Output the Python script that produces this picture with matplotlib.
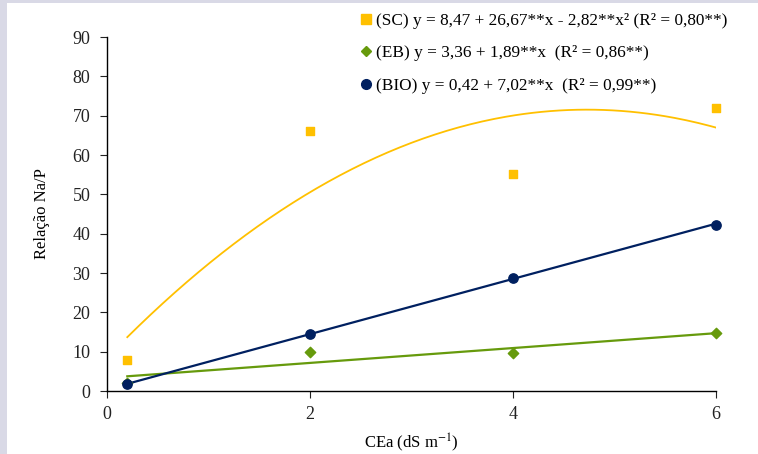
import matplotlib.pyplot as plt
import matplotlib.patches as patches
from matplotlib.lines import Line2D
import numpy as np

plt.rcParams['font.family'] = ['Liberation Serif', 'DejaVu Serif']
plt.rcParams['mathtext.fontset'] = 'stix'

# CEa levels and measured Na/P ratios
cea = [0.2, 2, 4, 6]
sc_vals = [8.0, 66.1, 55.2, 72.0]
eb_vals = [2.0, 9.9, 9.7, 14.7]
bio_vals = [1.8, 14.5, 28.7, 42.2]

# regression coefficients (from the legend)
sc_coef = [8.47, 26.67, -2.82]
eb_coef = [3.36, 1.89]
bio_coef = [0.42, 7.02]

sc_label = '(SC) y = 8,47 + 26,67**x - 2,82**x² (R² = 0,80**)'
eb_label = '(EB) y = 3,36 + 1,89**x  (R² = 0,86**)'
bio_label = '(BIO) y = 0,42 + 7,02**x  (R² = 0,99**)'

c_sc = '#FFC000'
c_eb = '#669A0C'
c_bio = '#002060'

fig = plt.figure(figsize=(7.58, 4.54), dpi=100)
fig.patch.set_facecolor('#D9D9E6')
fig.patches.append(patches.Rectangle((7 / 758, 0), 1, 1 - 3 / 454, transform=fig.transFigure,
                                     facecolor='white', edgecolor='none', zorder=-10))
ax = fig.add_axes([107 / 758, 1 - 391 / 454, (716 - 107) / 758, (391 - 37) / 454])
ax.set_zorder(1)
ax.set_facecolor('none')

xs = np.linspace(cea[0], cea[-1], 200)
ax.plot(xs, sc_coef[0] + sc_coef[1] * xs + sc_coef[2] * xs ** 2, color=c_sc, lw=1.3)
ax.plot(xs, eb_coef[0] + eb_coef[1] * xs, color=c_eb, lw=1.6)
ax.plot(xs, bio_coef[0] + bio_coef[1] * xs, color=c_bio, lw=1.6)

ax.scatter(cea, sc_vals, marker='s', s=38, color=c_sc, zorder=3, clip_on=False)
ax.scatter(cea, eb_vals, marker='D', s=28, color=c_eb, zorder=3, clip_on=False)
ax.scatter(cea, bio_vals, marker='o', s=45, color=c_bio, zorder=3, clip_on=False)

ax.set_xlim(0, 6)
ax.set_ylim(0, 90)
ax.set_xticks([0, 2, 4, 6])
ax.set_yticks(range(0, 91, 10))
for s in ['top', 'right']:
    ax.spines[s].set_visible(False)
ax.spines['left'].set_linewidth(1.0)
ax.spines['bottom'].set_linewidth(1.0)
ax.tick_params(labelsize=13, length=5, direction='out', colors='#222222')
ax.tick_params(axis='y', pad=7)
ax.tick_params(axis='x', pad=6)
ax.set_ylabel('Relação Na/P', fontsize=12, labelpad=16)
ax.set_xlabel('CEa (dS m$^{-1}$)', fontsize=12, labelpad=6)

handles = [
    Line2D([], [], ls='none', marker='s', color=c_sc, markersize=7),
    Line2D([], [], ls='none', marker='D', color=c_eb, markersize=5.5),
    Line2D([], [], ls='none', marker='o', color=c_bio, markersize=7),
]
leg = fig.legend(handles, [sc_label, eb_label, bio_label], loc='upper left',
                 bbox_to_anchor=(354 / 758, 1 - 6 / 454), frameon=False, fontsize=12.4,
                 handlelength=0.6, handletextpad=0.3, labelspacing=0.95, borderaxespad=0)
leg.set_zorder(2)

fig.savefig('out.png', dpi=100, facecolor=fig.get_facecolor())
